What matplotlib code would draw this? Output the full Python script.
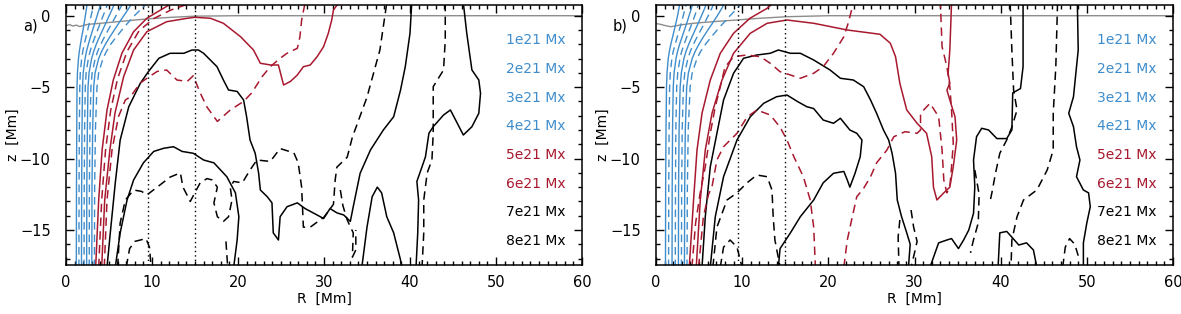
import numpy as np
import matplotlib
matplotlib.use("Agg")
import matplotlib.pyplot as plt

# -----------------------------
# flux contour data, R [Mm] / z [Mm]
# -----------------------------
levels = ["1e21 Mx", "2e21 Mx", "3e21 Mx", "4e21 Mx",
          "5e21 Mx", "6e21 Mx", "7e21 Mx", "8e21 Mx"]

# blue contours (1e21..4e21): R sampled at these heights, solid then dashed per level
blue_z = [-17.6, -12, -8, -5, -4, -3, -2.5, -2, -1.5, -1, -0.5, 0, 0.5, 0.9]
a_blue_R = [
    [1.20, 1.22, 1.25, 1.28, 1.33, 1.45, 1.55, 1.68, 1.82, 1.98, 2.12, 2.25, 2.38, 2.48],
    [1.50, 1.52, 1.55, 1.60, 1.66, 1.82, 1.95, 2.12, 2.32, 2.52, 2.72, 2.92, 3.12, 3.28],
    [1.80, 1.82, 1.86, 1.92, 2.00, 2.22, 2.38, 2.60, 2.84, 3.10, 3.36, 3.62, 3.88, 4.08],
    [2.10, 2.12, 2.16, 2.24, 2.34, 2.60, 2.80, 3.06, 3.36, 3.68, 4.00, 4.32, 4.64, 4.88],
    [2.40, 2.42, 2.48, 2.56, 2.68, 2.98, 3.22, 3.52, 3.88, 4.26, 4.64, 5.02, 5.40, 5.68],
    [2.70, 2.72, 2.78, 2.90, 3.04, 3.40, 3.68, 4.04, 4.46, 4.90, 5.36, 5.82, 6.28, 6.62],
    [3.00, 3.02, 3.10, 3.22, 3.38, 3.80, 4.14, 4.58, 5.08, 5.62, 6.16, 6.72, 7.28, 7.70],
    [3.30, 3.33, 3.42, 3.60, 3.80, 4.30, 4.70, 5.20, 5.82, 6.50, 7.20, 7.95, 8.80, 9.50],
]
b_blue_R = [
    [1.10, 1.12, 1.16, 1.22, 1.28, 1.42, 1.55, 1.72, 1.92, 2.12, 2.32, 2.50, 2.66, 2.76],
    [1.46, 1.48, 1.52, 1.58, 1.66, 1.84, 2.00, 2.22, 2.46, 2.70, 2.94, 3.16, 3.38, 3.54],
    [1.86, 1.88, 1.92, 2.00, 2.10, 2.32, 2.50, 2.74, 3.02, 3.30, 3.58, 3.84, 4.10, 4.28],
    [2.24, 2.26, 2.30, 2.40, 2.52, 2.78, 2.98, 3.26, 3.56, 3.88, 4.20, 4.50, 4.78, 4.96],
    [2.60, 2.62, 2.68, 2.80, 2.94, 3.24, 3.48, 3.80, 4.16, 4.54, 4.92, 5.28, 5.64, 5.88],
    [2.95, 2.98, 3.04, 3.18, 3.34, 3.70, 3.98, 4.34, 4.76, 5.20, 5.64, 6.06, 6.46, 6.74],
    [3.30, 3.33, 3.40, 3.56, 3.76, 4.20, 4.54, 4.98, 5.48, 6.02, 6.58, 7.12, 7.62, 7.98],
    [3.60, 3.64, 3.74, 3.96, 4.20, 4.76, 5.18, 5.74, 6.40, 7.10, 7.84, 8.60, 9.40, 10.0],
]

# photosphere (gray)
a_gray_R = [0, 0.4, 0.8, 1.2, 1.6, 2.0, 2.4, 3.0, 4.0, 6.0, 8.0, 10.0, 12.0, 15.0, 20.0, 60.0]
a_gray_z = [-0.7, -0.62, -0.72, -0.66, -0.76, -0.68, -0.62, -0.58, -0.53, -0.42, -0.3, -0.2,
            -0.12, -0.03, 0.0, 0.0]
b_gray_R = [0, 0.5, 1.0, 1.7, 2.2, 2.8, 4.0, 5.1, 7.0, 9.4, 12.0, 15.2, 20.0, 60.0]
b_gray_z = [-0.55, -0.6, -0.68, -0.77, -0.72, -0.65, -0.55, -0.49, -0.4, -0.3, -0.18, -0.07,
            0.0, 0.0]

# ---- panel a ----
a_r5_solid = [(3.45, -17.6), (3.8, -12.9), (4.2, -9.4), (4.77, -6.6), (5.5, -4.5), (6.5, -2.63),
              (7.86, -1.12), (9.4, -0.18), (11.0, 0.4), (12.4, 0.9)]
a_r5_dash = [(3.8, -17.6), (4.15, -12.9), (4.6, -9.4), (5.2, -6.6), (6.0, -4.4), (7.1, -2.5),
             (8.5, -1.05), (10.2, -0.2), (12.2, 0.4), (14.6, 0.9)]
a_r6_solid = [(4.15, -17.6), (4.5, -12.9), (5.1, -9.4), (5.7, -6.8), (6.7, -4.27), (7.86, -2.4),
              (9.4, -1.12), (11.7, -0.42), (14.1, -0.18), (15.0, -0.11), (16.8, -0.18),
              (18.3, -0.53), (20.3, -1.47), (21.8, -2.4), (22.6, -3.33), (23.8, -3.45),
              (24.7, -3.45), (25.3, -4.85), (26.1, -4.6), (26.9, -4.15), (27.6, -3.57),
              (28.4, -3.45), (29.2, -2.87), (29.95, -2.17), (30.5, -1.23), (30.9, -0.3),
              (31.1, 0.4), (31.7, 0.9)]
a_r6_dash = [(4.45, -17.6), (4.77, -12.9), (5.35, -9.4), (6.1, -7.07), (6.9, -5.9), (7.5, -5.67),
             (8.6, -4.73), (9.6, -4.3), (10.6, -3.9), (11.7, -3.8), (12.9, -4.5), (14.1, -4.6),
             (14.8, -4.2), (15.6, -5.4), (16.4, -6.4), (17.6, -7.4), (19.1, -6.6), (20.65, -6.0),
             (21.6, -5.4), (22.8, -4.27), (23.75, -3.57), (24.9, -2.98), (25.7, -2.63),
             (26.9, -2.28), (27.2, -1.47), (27.4, -0.3), (27.8, 0.9)]
a_k7_solid = [(4.77, -17.6), (5.15, -15.2), (5.73, -11.7), (6.3, -8.7), (7.3, -6.37), (8.64, -4.73),
              (9.6, -3.9), (10.8, -2.98), (12.1, -2.63), (13.7, -2.63), (14.65, -2.4),
              (15.4, -2.4), (16.0, -2.63), (17.56, -3.57), (18.3, -4.5), (18.9, -5.2),
              (19.9, -5.3), (20.65, -5.9), (21.0, -7.07), (21.4, -8.7), (22.0, -9.63),
              (22.4, -11.03), (22.6, -12.2), (23.4, -12.67), (23.95, -13.1), (24.1, -15.2),
              (24.7, -15.7), (24.9, -14.07), (25.7, -13.37), (26.9, -13.1), (27.8, -13.5),
              (29.2, -13.95), (29.95, -14.2), (30.7, -13.5), (31.5, -13.8), (32.3, -13.95),
              (33.06, -14.4), (33.4, -13.37), (34.2, -11.03), (35.4, -9.4), (36.9, -8.0),
              (38.1, -7.07), (38.9, -5.2), (39.45, -3.57), (40.0, -1.23), (40.2, 0.9)]
a_k8_solid = [(5.73, -17.6), (6.3, -15.2), (7.1, -12.9), (7.86, -11.5), (9.0, -10.3), (10.2, -9.5),
              (11.35, -9.28), (12.5, -9.17), (13.5, -9.5), (14.8, -9.63), (16.0, -10.1),
              (17.2, -10.3), (18.7, -11.27), (19.7, -12.4), (20.1, -14.07), (19.9, -15.7),
              (19.5, -17.6)]
a_k8_solid_2 = [(34.4, -17.6), (35.0, -14.8), (35.6, -12.67), (36.2, -12.0), (36.7, -12.4),
                (37.3, -14.07), (38.1, -15.2), (38.9, -17.1), (39.0, -17.6)]
a_k7_solid_2 = [(46.2, 0.9), (46.6, -1.23), (47.2, -3.8), (48.0, -4.5), (48.2, -5.43), (48.0, -6.83),
                (47.2, -7.77), (46.2, -8.35), (45.5, -7.53), (44.7, -6.6), (43.9, -6.95),
                (42.7, -7.77), (42.2, -8.23), (41.8, -9.87), (41.4, -10.57), (40.8, -11.6),
                (41.0, -12.9), (40.9, -15.2), (40.7, -17.6)]
a_k7_dash = [(6.0, -17.6), (6.3, -14.5), (6.9, -12.9), (7.87, -12.2), (8.8, -12.3), (9.4, -12.55),
             (10.6, -12.0), (12.1, -11.3), (13.3, -11.0), (13.6, -12.0), (14.45, -13.0),
             (15.6, -11.7), (16.4, -11.4), (17.0, -11.5), (17.6, -12.0), (17.2, -13.1),
             (17.6, -14.07), (18.3, -14.4), (18.9, -14.07), (19.3, -12.9), (19.1, -12.0),
             (19.5, -11.6), (20.5, -11.7), (21.4, -10.8), (22.2, -10.1), (23.75, -10.2),
             (24.9, -9.3), (26.5, -9.6), (27.0, -10.3), (27.4, -12.0), (27.6, -14.8),
             (28.4, -14.8), (30.0, -14.1), (31.1, -13.2), (31.3, -11.5), (31.5, -10.6),
             (32.7, -9.9), (33.3, -8.5), (35.0, -5.7), (36.5, -2.4), (37.3, 0.9)]
a_k7_dash_2 = [(31.9, -12.2), (32.2, -13.3), (32.7, -14.3), (33.4, -15.2), (33.3, -16.9),
               (33.7, -16.4), (33.7, -15.0)]
a_k8_dash = [(7.0, -17.6), (7.4, -16.3), (8.0, -15.8), (9.3, -15.6), (9.7, -16.2), (9.9, -17.6)]
a_k8_dash_2 = [(18.6, -15.8), (18.8, -17.6)]
a_k8_dash_3 = [(44.1, 0.9), (44.1, -1.7), (43.9, -3.8), (43.3, -4.38), (42.7, -4.97), (42.7, -6.83),
               (42.7, -8.23), (42.55, -10.1), (42.0, -11.0), (41.6, -12.9), (41.6, -15.2),
               (41.4, -17.6)]

# ---- panel b ----
b_r5_solid = [(3.86, -17.6), (4.36, -12.9), (4.76, -9.4), (5.34, -6.83), (6.3, -4.5), (7.46, -2.63),
              (9.0, -1.23), (10.9, -0.18), (12.9, 0.52), (13.6, 0.9)]
b_r5_dash = [(4.17, -17.6), (4.6, -14.5), (5.1, -12.5), (5.72, -10.57), (6.3, -8.23), (6.88, -6.37),
             (7.46, -4.97), (8.0, -3.6), (9.0, -2.87), (10.56, -2.75), (12.1, -2.87),
             (13.26, -3.33), (14.4, -3.92), (15.6, -4.15), (16.75, -4.38), (18.3, -4.03),
             (19.4, -3.57), (20.6, -2.63), (21.8, -1.47), (22.3, -0.53), (22.7, 0.4), (23.0, 0.9)]
b_r6_solid = [(4.67, -17.6), (5.14, -12.9), (5.72, -9.4), (6.5, -6.83), (7.66, -4.5), (9.0, -2.63),
              (10.94, -1.23), (12.9, -0.53), (15.2, -0.3), (18.3, -0.53), (22.2, -1.0),
              (26.0, -1.3), (27.2, -1.93), (27.8, -2.87), (28.3, -4.73), (29.1, -6.6),
              (30.3, -7.53), (31.4, -8.23), (32.0, -9.87), (32.2, -12.0), (32.6, -12.9),
              (33.4, -12.4), (34.1, -12.0), (34.5, -10.57), (34.9, -8.7), (34.7, -7.07),
              (34.1, -5.9), (33.76, -5.2), (34.1, -4.73), (33.9, -4.03), (34.1, -2.4), (34.3, 0.9)]
b_r6_dash = [(4.94, -17.6), (5.5, -14.07), (6.1, -12.5), (6.5, -11.97), (7.07, -10.1),
             (7.84, -9.17), (9.4, -8.23), (10.56, -7.1), (11.7, -6.6), (13.26, -6.95),
             (14.4, -7.8), (15.2, -8.7), (16.0, -9.87), (17.1, -11.27), (17.9, -12.9),
             (18.3, -14.8), (18.5, -17.6)]
b_r6_dash_2 = [(21.8, -17.6), (22.2, -15.7), (22.7, -14.3), (23.3, -12.67), (24.1, -12.08),
               (24.9, -11.27), (25.6, -10.3), (26.8, -9.4), (27.6, -8.47), (28.9, -8.12),
               (30.3, -8.23), (30.7, -8.0), (30.7, -6.83), (31.8, -6.13), (32.8, -7.07),
               (33.2, -9.4), (33.4, -11.5), (33.76, -12.4), (34.1, -12.0), (34.3, -10.57),
               (34.5, -8.93), (34.3, -6.6), (34.1, -4.97), (33.76, -3.57), (33.2, -2.17),
               (33.0, 0.9)]
b_k7_solid = [(5.34, -17.6), (5.72, -14.07), (6.3, -10.57), (7.07, -8.23), (7.84, -5.9), (9.0, -4.03),
              (10.16, -2.98), (11.7, -2.75), (13.26, -2.63), (14.2, -2.4), (15.6, -2.63),
              (16.75, -2.63), (18.3, -3.1), (20.2, -3.8), (21.4, -4.38), (22.9, -4.5),
              (24.1, -4.97), (24.9, -5.9), (25.6, -6.83), (26.4, -8.0), (27.0, -8.7),
              (27.4, -9.63), (27.8, -11.03), (28.0, -12.9), (28.5, -14.07), (29.1, -15.2),
              (29.5, -16.0), (29.3, -17.6)]
b_k8_solid = [(6.3, -17.6), (6.88, -14.07), (7.84, -11.27), (9.4, -8.7), (10.94, -7.07),
              (12.5, -6.13), (14.0, -5.67), (15.2, -5.55), (16.4, -6.0), (17.5, -6.37),
              (18.3, -6.5), (19.4, -7.3), (20.6, -7.53), (21.4, -7.18), (22.5, -8.0),
              (23.3, -8.23), (23.9, -8.7), (23.7, -9.87), (23.1, -11.03), (22.5, -12.0),
              (22.2, -11.5), (21.8, -10.9), (20.6, -11.03), (19.4, -11.7), (18.3, -12.9),
              (16.75, -14.07), (15.6, -15.2), (14.4, -16.3), (14.2, -17.6)]
b_k7_solid_2 = [(31.8, -17.6), (32.8, -15.9), (33.76, -15.7), (34.3, -15.6), (35.1, -16.3),
                (35.7, -15.7), (36.3, -15.0), (36.85, -13.83), (37.0, -11.97), (36.85, -10.1),
                (37.2, -8.47), (37.8, -7.88), (38.6, -8.0), (39.56, -8.6), (40.7, -8.6),
                (41.3, -8.0), (41.4, -5.4), (42.3, -5.1), (42.6, -3.57), (42.6, -1.23), (42.6, 0.9)]
b_k8_solid_2 = [(39.7, -17.6), (39.9, -15.2), (40.7, -15.1), (41.3, -15.5), (42.1, -16.05),
                (43.0, -15.9), (43.8, -16.4), (44.2, -17.6)]
b_k7_solid_3 = [(48.9, 0.9), (49.0, -2.4), (48.45, -5.67), (47.9, -6.83), (48.45, -7.77),
                (48.8, -9.17), (49.2, -10.1), (48.8, -11.27), (49.6, -12.2), (50.2, -12.4),
                (50.4, -13.37), (50.0, -14.5), (49.6, -15.9), (49.6, -17.6)]
b_k7_dash = [(6.6, -17.6), (7.07, -14.8), (8.24, -12.9), (9.4, -12.4), (10.56, -11.7),
             (11.7, -11.15), (12.9, -11.27), (13.46, -12.2), (13.6, -14.07), (13.8, -15.7),
             (14.4, -17.6)]
b_k8_dash = [(7.46, -17.6), (7.84, -16.2), (8.6, -15.7), (9.4, -16.2), (9.98, -17.6)]
b_kd_1 = [(28.3, -14.3), (28.1, -15.5), (28.2, -17.6)]
b_kd_2 = [(29.6, -13.6), (29.9, -14.8), (30.3, -15.8), (30.0, -16.6), (29.6, -17.6)]
b_kd_3 = [(41.1, 0.9), (41.3, -2.4), (41.5, -5.2), (41.9, -6.6), (41.3, -7.8), (40.7, -8.7),
          (39.9, -9.63), (39.4, -11.03), (38.98, -12.4), (38.7, -13.2)]
b_kd_4 = [(37.0, -10.8), (37.5, -12.5), (37.4, -14.5), (36.8, -15.8), (36.5, -16.6)]
b_kd_5 = [(46.6, 0.9), (46.4, -3.57), (46.1, -6.83), (46.1, -9.4), (45.4, -10.8), (44.2, -12.2),
          (42.65, -12.9), (41.9, -14.07), (41.3, -15.7), (41.2, -17.6)]
b_kd_6 = [(47.2, -17.6), (47.5, -16.2), (48.0, -15.6), (48.6, -16.0), (49.0, -16.8)]

dotted_R = [9.5, 15.0]

# -----------------------------
# styling
# -----------------------------
BLUE = "#3f8dcc"
RED = "#a8192f"
BLACK = "black"
GRAY = "#8c8c8c"
label_colors = [BLUE] * 4 + [RED] * 2 + [BLACK] * 2
DASH = (0, (5.5, 3.5))

plt.rcParams["font.family"] = "DejaVu Sans"
plt.rcParams["font.size"] = 10

fig = plt.figure(figsize=(11.81, 3.14), dpi=100)
ax_a = fig.add_axes([66 / 1181, 1 - 265 / 314, 516 / 1181, 260 / 314])
ax_b = fig.add_axes([656 / 1181, 1 - 265 / 314, 517 / 1181, 260 / 314])

panels = {
    "a": dict(ax=ax_a, blue=a_blue_R, gray=(a_gray_R, a_gray_z),
              solid=[(a_r5_solid, RED), (a_r6_solid, RED), (a_k7_solid, BLACK),
                     (a_k8_solid, BLACK), (a_k8_solid_2, BLACK), (a_k7_solid_2, BLACK)],
              dash=[(a_r5_dash, RED), (a_r6_dash, RED), (a_k7_dash, BLACK),
                    (a_k7_dash_2, BLACK), (a_k8_dash, BLACK), (a_k8_dash_2, BLACK),
                    (a_k8_dash_3, BLACK)]),
    "b": dict(ax=ax_b, blue=b_blue_R, gray=(b_gray_R, b_gray_z),
              solid=[(b_r5_solid, RED), (b_r6_solid, RED), (b_k7_solid, BLACK),
                     (b_k8_solid, BLACK), (b_k7_solid_2, BLACK), (b_k8_solid_2, BLACK),
                     (b_k7_solid_3, BLACK)],
              dash=[(b_r5_dash, RED), (b_r6_dash, RED), (b_r6_dash_2, RED),
                    (b_k7_dash, BLACK), (b_k8_dash, BLACK), (b_kd_1, BLACK), (b_kd_2, BLACK),
                    (b_kd_3, BLACK), (b_kd_4, BLACK), (b_kd_5, BLACK), (b_kd_6, BLACK)]),
}

for name, p in panels.items():
    ax = p["ax"]
    ax.plot(p["gray"][0], p["gray"][1], color=GRAY, lw=1.0, zorder=1)

    for i, R in enumerate(p["blue"]):
        ls = "-" if i % 2 == 0 else DASH
        ax.plot(R, blue_z, color=BLUE, lw=1.0, linestyle=ls)

    for path, col in p["solid"]:
        R, z = zip(*path)
        ax.plot(R, z, color=col, lw=1.1)
    for path, col in p["dash"]:
        R, z = zip(*path)
        ax.plot(R, z, color=col, lw=1.1, linestyle=DASH)

    for r in dotted_R:
        ax.axvline(r, color="black", lw=1.0, linestyle=(0, (1, 2.2)))

    for k, (lab, col) in enumerate(zip(levels, label_colors)):
        ax.text(0.968, 0.865 - k * 0.1105, lab, color=col, transform=ax.transAxes,
                ha="right", va="center", fontsize=10)

    ax.set_xlim(0, 60)
    ax.set_ylim(-17.45, 0.75)
    ax.set_xticks([0, 10, 20, 30, 40, 50, 60])
    ax.set_xticks(np.arange(0, 61, 1), minor=True)
    ax.set_yticks([0, -5, -10, -15])
    ax.set_yticks(np.arange(-17, 1, 1), minor=True)
    ax.set_yticklabels(["0", "\u22125", "\u221210", "\u221215"])
    ax.tick_params(which="both", direction="in", top=True, right=True, width=1.0)
    ax.tick_params(which="major", length=6)
    ax.tick_params(which="minor", length=3)
    ax.tick_params(axis="x", which="major", pad=7, labelsize=10.5)
    ax.tick_params(axis="y", which="major", pad=11, labelsize=10.5)
    for sp in ax.spines.values():
        sp.set_linewidth(1.1)
    ax.set_xlabel("R  [Mm]", fontsize=10)
    ax.set_ylabel("z  [Mm]", fontsize=10)
    ax.xaxis.set_label_coords(0.5, -0.103)
    ax.yaxis.set_label_coords(-0.089, 0.5)

fig.text(23 / 1181, 1 - 26 / 314, "a)", fontsize=10.5, va="center", ha="left")
fig.text(613 / 1181, 1 - 26 / 314, "b)", fontsize=10.5, va="center", ha="left")

fig.savefig("out.png", dpi=100)
